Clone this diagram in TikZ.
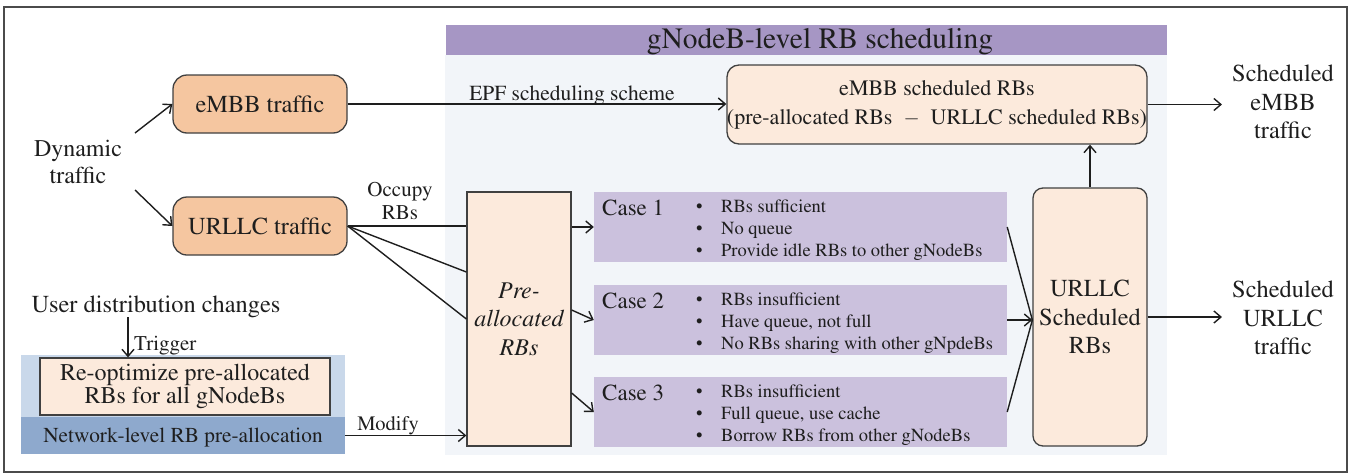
\documentclass[tikz,border=0pt]{standalone}
\usepackage[T1]{fontenc}
\usepackage{times}
\usetikzlibrary{arrows.meta}
\definecolor{orangebox}{HTML}{F5C6A0}
\definecolor{peach}{HTML}{FCEADC}
\definecolor{hdrpurple}{HTML}{A696C4}
\definecolor{casepurple}{HTML}{CBC1DD}
\definecolor{panelgray}{HTML}{F2F5F9}
\definecolor{lightblue}{HTML}{C9D8EA}
\definecolor{netblue}{HTML}{8EA9CD}
\definecolor{ink}{HTML}{1E1E1E}
\newcommand\bulitem{\makebox[25pt][l]{\textbullet}}
\begin{document}
\begin{tikzpicture}[x=1pt, y=-1pt,
  line/.style={draw=ink, line width=1.4pt},
  arr/.style={line, -{Straight Barb[length=7pt,width=12pt,line width=1.4pt]}},
  lbl/.style={inner sep=0pt, text=ink, align=center},
  rbox/.style={draw=ink!85, line width=1.3pt, rounded corners=14pt, text=ink, align=center, inner sep=0pt},
  sbox/.style={draw=ink!85, line width=1.3pt, text=ink, align=center, inner sep=0pt},
  casebox/.style={fill=casepurple, inner sep=0pt, minimum width=413pt, minimum height=70pt},
  fbig/.style={font=\fontsize{24.4}{28.5}\selectfont},
  fcase/.style={font=\fontsize{23}{27}\selectfont},
  fbul/.style={font=\fontsize{18.5}{22}\selectfont},
  bul/.style={lbl, anchor=base west, fbul},
]
\useasboundingbox (0,0) rectangle (1351,474);
% outer frame
\draw[ink!80, line width=1.2pt] (4,7) rectangle (1347,472);

% gNodeB-level area with its header
\fill[panelgray] (445,55) rectangle (1167,455);
\fill[hdrpurple] (446,25) rectangle (1167,55);
\node[lbl, anchor=base, font=\fontsize{29.5}{34}\selectfont] (title) at (820,48) {gNodeB-level RB scheduling};

% traffic sources
\node[lbl, font=\fontsize{24}{27}\selectfont] (dyn) at (78,162) {Dynamic\\traffic};
\coordinate (d1) at (135,133);
\coordinate (d2) at (135,190);
\node[rbox, fill=orangebox, minimum width=174pt, minimum height=58pt, fbig] (embb) at (260,104) {eMBB traffic};
\node[rbox, fill=orangebox, minimum width=174pt, minimum height=58pt, fbig] (urllc) at (260,226) {URLLC traffic};

% eMBB scheduling
\node[rbox, fill=peach, minimum width=420pt, minimum height=79pt, rounded corners=12pt, font=\fontsize{22}{29}\selectfont] (esch) at (937,104.5)
  {eMBB scheduled RBs\\(pre-allocated RBs\ \ $-$\ \ URLLC scheduled RBs)};
\node[lbl, anchor=base, font=\fontsize{21.5}{25}\selectfont] (epf) at (572,100) {EPF scheduling scheme};

% pre-allocated RBs
\node[sbox, fill=peach, minimum width=104pt, minimum height=254pt, font=\itshape\fontsize{24}{28.5}\selectfont] (pre) at (519,319) {Pre-\\allocated\\RBs};
\node[lbl, font=\fontsize{21}{23}\selectfont] (occ) at (400,201) {Occupy\\RBs};

% the three cases
\node[casebox] (c1) at (800.5,227) {};
\node[casebox] (c2) at (800.5,320) {};
\node[casebox] (c3) at (800.5,412) {};
\node[lbl, anchor=base west, fcase] (c1t) at (602,215) {Case 1};
\node[lbl, anchor=base west, fcase] (c2t) at (602,308) {Case 2};
\node[lbl, anchor=base west, fcase] (c3t) at (602,400) {Case 3};
\node[bul] (c1a) at (696,212) {\bulitem RBs sufficient};
\node[bul] (c1b) at (696,234) {\bulitem No queue};
\node[bul] (c1c) at (696,256) {\bulitem Provide idle RBs to other gNodeBs};
\node[bul] (c2a) at (696,305) {\bulitem RBs insufficient};
\node[bul] (c2b) at (696,327) {\bulitem Have queue, not full};
\node[bul] (c2c) at (696,349) {\bulitem No RBs sharing with other gNpdeBs};
\node[bul] (c3a) at (696,397) {\bulitem RBs insufficient};
\node[bul] (c3b) at (696,419) {\bulitem Full queue, use cache};
\node[bul] (c3c) at (696,441) {\bulitem Borrow RBs from other gNodeBs};

% URLLC scheduled RBs
\node[rbox, fill=peach, minimum width=114pt, minimum height=258pt, rounded corners=10pt, fbig] (usch) at (1090,317) {URLLC\\Scheduled\\RBs};

% outputs
\node[lbl, fbig, inner xsep=10pt] (oe) at (1283,102) {Scheduled\\eMBB\\traffic};
\node[lbl, fbig, inner xsep=10pt] (ou) at (1283,318) {Scheduled\\URLLC\\traffic};

% network-level pre-allocation
\node[lbl, anchor=base, fbig] (udc) at (156,312) {User distribution changes};
\node[fill=lightblue, minimum width=324pt, minimum height=62pt, inner sep=0pt] (lb) at (183,386) {};
\node[sbox, fill=peach, minimum width=290pt, minimum height=57pt, font=\fontsize{24}{23}\selectfont] (reopt) at (185,386.5) {Re-optimize pre-allocated\\RBs for all gNodeBs};
\node[fill=netblue, minimum width=324pt, minimum height=37pt, inner sep=0pt, text=ink, text depth=0pt, font=\fontsize{21.3}{25}\selectfont] (net) at (183,435.5) {Network-level RB pre-allocation};
\coordinate (trg) at (128,0);
\node[lbl, anchor=base west, font=\fontsize{21}{24}\selectfont] (trig) at (134,350) {Trigger};
\node[lbl, anchor=base, font=\fontsize{20.5}{24}\selectfont] (mod) at (388,430) {Modify};

% connectors
\draw[arr] (d1) -- (embb.west);
\draw[arr] (d2) -- (urllc.west);
\draw[arr] (embb.east) -- (esch.west |- embb.east);
\draw[line] (urllc.east) -- (pre.west |- urllc.east);
\draw[line] (urllc.east) -- ([yshift=47pt]pre.west);
\draw[line] (urllc.east) -- (pre.west);
\draw[arr] (pre.east |- c1.west) -- (c1.west);
\draw[arr] ([yshift=9pt]pre.east) -- (c2.west);
\draw[arr] ([yshift=-74pt]pre.east) -- (c3.west);
\coordinate (uin) at (c2.east -| usch.west);
\draw[line] (c1.east) -- (uin);
\draw[line] (c3.east) -- (uin);
\draw[arr] (c2.east) -- (uin);
\draw[arr] (usch.north) -- (usch.north |- esch.south);
\draw[arr] (esch.east) -- (esch.east -| oe.west);
\draw[arr] (usch.east) -- (usch.east -| ou.west);
\draw[arr] (udc.south -| trg) -- (reopt.north -| trg);
\draw[arr] (net.east) -- (pre.west |- net.east);
\end{tikzpicture}
\end{document}
